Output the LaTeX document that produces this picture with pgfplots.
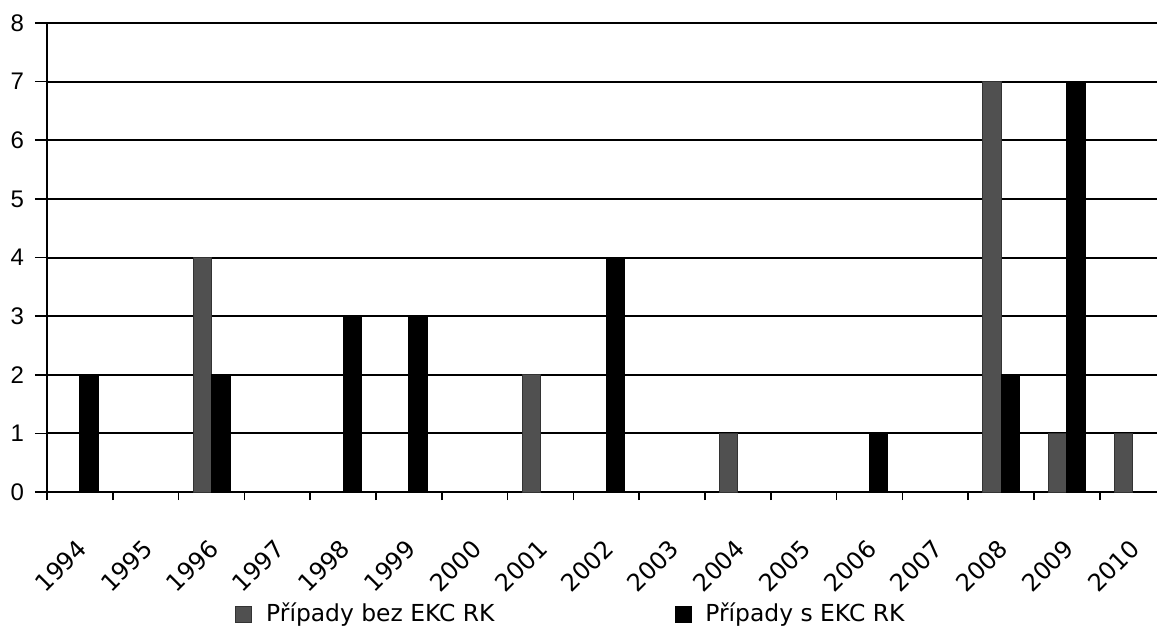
\documentclass[border=0pt]{standalone}
\usepackage{pgfplots}
\pgfplotsset{compat=1.18}
\usepackage{fontspec}
\setmainfont{DejaVu Sans}
\newfontfamily\arialf{Liberation Sans}
\usetikzlibrary{calc}
\definecolor{bargrey}{HTML}{505050}
\begin{document}
\begin{tikzpicture}
\begin{axis}[
  name=ax,
  scale only axis,
  width=555pt, height=234.5pt,
  xmin=-0.5, xmax=16.37,
  ymin=0, ymax=8,
  axis lines*=left,
  axis line style={line width=1pt},
  ytick={0,1,2,3,4,5,6,7,8},
  yticklabels={0,1,2,3,4,5,6,7,8},
  ymajorgrids,
  grid style={black, line width=1pt},
  xtick={0,...,16},
  xticklabels={1994,1995,1996,1997,1998,1999,2000,2001,2002,2003,2004,2005,2006,2007,2008,2009,2010},
  minor xtick={-0.5,0.5,...,16.5},
  tick align=outside,
  major tick length=6pt,
  minor tick length=4pt,
  major x tick style={draw=none},
  tick style={black, line width=0.8pt},
  yticklabel style={xshift=-2pt, font=\arialf\fontsize{12pt}{14pt}\selectfont},
  xticklabel style={yshift=-12pt, xshift=-2pt, rotate=45, anchor=north east, font=\fontsize{12pt}{14pt}\selectfont},
  ybar=0pt,
  bar width=0.28,
  legend style={draw=none, inner sep=0pt, at={(0,0)}, anchor=west, xshift=94pt, yshift=-61pt,
    legend columns=2, font=\fontsize{11.7pt}{14pt}\selectfont,
    /tikz/every odd column/.append style={column sep=5pt},
    /tikz/every even column/.append style={column sep=88pt}},
  legend image code/.code={\fill[#1] (0pt,-4pt) rectangle (8pt,4pt);},
  legend cell align=left,
]
\addplot[fill=bargrey, draw=black!80] coordinates {(2,4) (7,2) (10,1) (14,7) (15,1) (16,1)};
\addlegendentry{Případy bez EKC RK}
\addplot[fill=black, draw=black] coordinates {(0,2) (2,2) (4,3) (5,3) (8,4) (12,1) (14,2) (15,7)};
\addlegendentry{Případy s EKC RK}
\end{axis}
\pgfresetboundingbox
\path[use as bounding box] ($(ax.south west)+(-23.5pt,-72.5pt)$) rectangle ($(ax.north east)+(0pt,11.5pt)$);
\end{tikzpicture}
\end{document}
